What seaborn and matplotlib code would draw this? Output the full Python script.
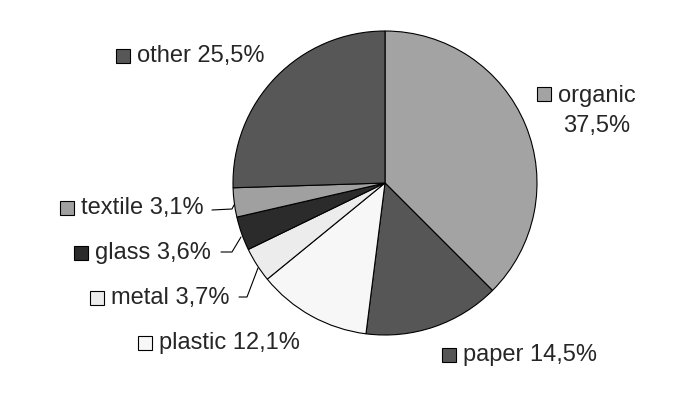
# waste composition pie chart
import seaborn as sns
import matplotlib.pyplot as plt

categories = ["organic", "paper", "plastic", "metal", "glass", "textile", "other"]
shares = [37.5, 14.5, 12.1, 3.7, 3.6, 3.1, 25.5]
colors = ["#a3a3a3", "#565656", "#f7f7f7", "#ececec", "#2b2b2b", "#a0a0a0", "#575757"]

sns.set_style("white")
plt.rcParams["font.family"] = ["Liberation Sans", "DejaVu Sans"]

W, H = 698, 416
fig = plt.figure(figsize=(W / 100, H / 100), dpi=100)
ax = fig.add_axes([0, 0, 1, 1])

ax.pie(shares, colors=colors, startangle=90, counterclock=False,
       center=(385, H - 183), radius=152,
       wedgeprops=dict(edgecolor="black", linewidth=0.8))
ax.set_xlim(0, W)
ax.set_ylim(0, H)
ax.set_aspect("equal")
ax.axis("off")

def pct(v):
    return f"{v:.1f}".replace(".", ",") + "%"

# label layout in pixel coords (x of square centre, y centre), image y goes down
layout = {
    "organic": (544, 94),
    "paper": (449, 355),
    "plastic": (145, 343),
    "metal": (97, 298),
    "glass": (81, 253),
    "textile": (67, 208),
    "other": (123, 56),
}

for name, v, c in zip(categories, shares, colors):
    sx, sy = layout[name]
    ax.plot(sx, H - sy, marker="s", markersize=10.5, color=c,
            markeredgecolor="black", markeredgewidth=0.8)
    if name == "organic":
        ax.text(sx + 53, H - sy - 17, f"{name}\n{pct(v)}", fontsize=17,
                ha="center", va="center", multialignment="center",
                linespacing=1.5)
    else:
        ax.text(sx + 14, H - sy, f"{name} {pct(v)}", fontsize=17,
                ha="left", va="center")

# leader lines for the small slices
leaders = [
    ([212, 232, 234], [210, 209, 205]),
    ([221, 232, 241], [252, 252, 237]),
    ([239, 247, 258], [297, 297, 268]),
]
for xs, ys in leaders:
    ax.plot(xs, [H - y for y in ys], color="black", linewidth=0.8)

fig.savefig("out.png", dpi=100)
